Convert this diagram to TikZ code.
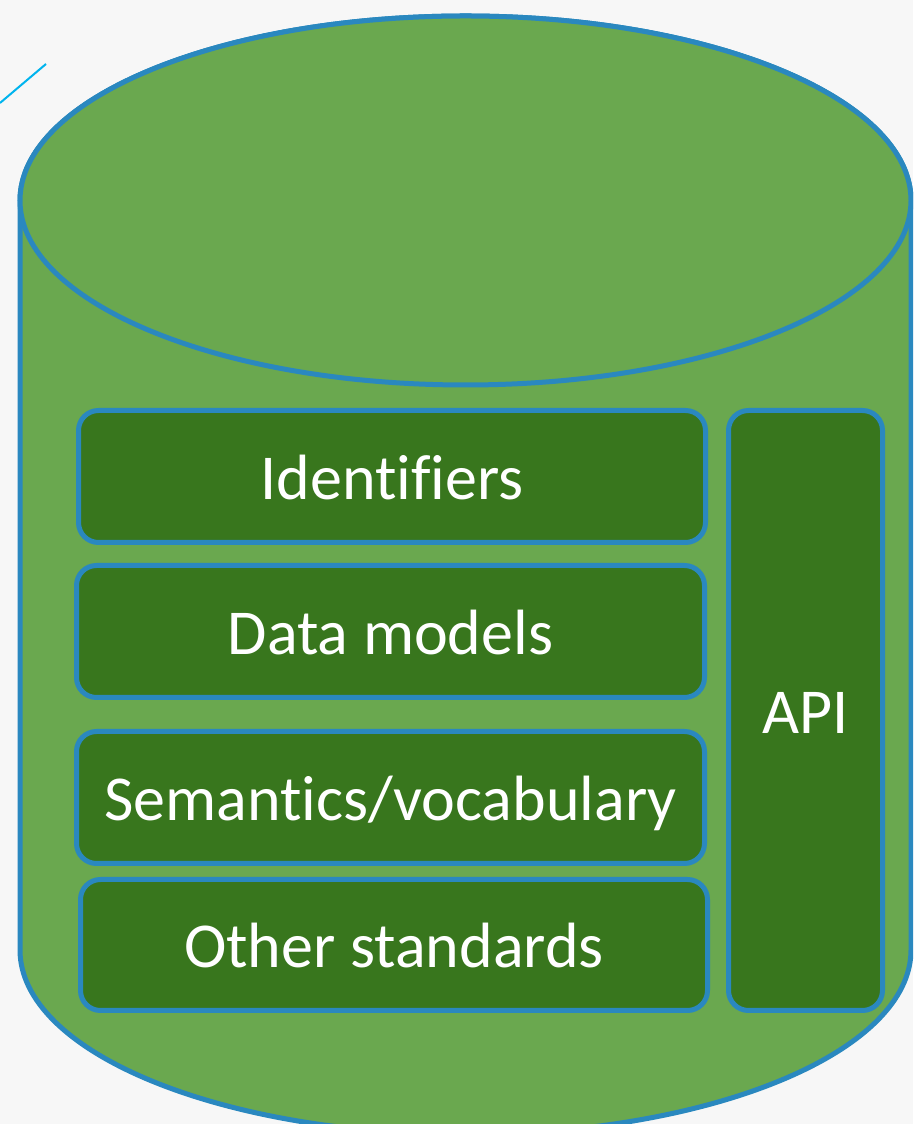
\documentclass[tikz,border=0pt]{standalone}
\usepackage{fontspec}
\setmainfont{Carlito}[Ligatures=NoCommon]
\usepackage{xcolor}
\usetikzlibrary{positioning}

\definecolor{bgcol}{HTML}{F7F7F7}
\definecolor{cylgreen}{HTML}{6AA84F}
\definecolor{boxgreen}{HTML}{38761D}
\definecolor{edgeblue}{HTML}{2A88BF}
\definecolor{linecyan}{HTML}{00B4EE}

\begin{document}
\begin{tikzpicture}[x=1pt, y=1pt,
  cyl/.style={fill=cylgreen, draw=edgeblue, line width=5pt},
  layer/.style={fill=boxgreen, draw=edgeblue, line width=5pt, rounded corners=20pt,
    text=white, font=\fontsize{64}{70}\selectfont, inner sep=0pt,
    text height=46pt, text depth=0pt}]
% page and background
\fill[bgcol] (0,0) rectangle (913,1124);
\useasboundingbox (0,0) rectangle (913,1124);
\clip (0,0) rectangle (913,1124);

% cylinder
\draw[cyl] (20,923.5) -- (20,174)
  arc[start angle=180, end angle=360, x radius=445.5pt, y radius=184.5pt]
  -- (911,923.5) arc[start angle=0, end angle=180, x radius=445.5pt, y radius=184.5pt] -- cycle;
\draw[cyl] (465.5,923.5) ellipse[x radius=445.5pt, y radius=184.5pt];

% stray line
\coordinate (lnA) at (0,1021);
\coordinate (lnB) at (46,1060);
\draw[linecyan, line width=2pt] (lnA) -- (lnB);

% layers
\node[layer, minimum width=627pt, minimum height=132pt] (ident) at (392,647.5) {Identifiers};
\node[layer, minimum width=628pt, minimum height=132pt] (models) at (390.5,492.5) {Data models};
\node[layer, minimum width=628pt, minimum height=132pt] (vocab) at (390.5,326.5) {Semantics/vocabulary};
\node[layer, minimum width=627pt, minimum height=131pt] (other) at (394,179) {Other standards};
\node[layer, minimum width=154pt, minimum height=600pt] (api) at (805.5,413.5) {API};
\end{tikzpicture}
\end{document}
